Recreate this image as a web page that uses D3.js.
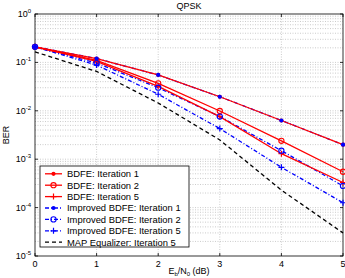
<!DOCTYPE html>
<html>
<head>
<meta charset="utf-8">
<script src="https://cdn.jsdelivr.net/npm/d3@7"></script>
<style>
  body { margin: 0; background: #fff; }
  text { font-family: "Liberation Sans", Arial, sans-serif; fill: #000; }
</style>
</head>
<body>
<svg id="chart" width="345" height="278"></svg>
<script>
const snr = [0, 1, 2, 3, 4, 5]

const bdfeIt1 = [0.21, 0.12, 0.055, 0.0195, 0.0063, 0.002]
const bdfeIt2 = [0.21, 0.11, 0.037, 0.0099, 0.0024, 0.00055]
const bdfeIt5 = [0.21, 0.105, 0.032, 0.0076, 0.0013, 0.00033]
const impIt1 = [0.21, 0.12, 0.055, 0.0195, 0.0063, 0.002]
const impIt2 = [0.21, 0.097, 0.03, 0.0076, 0.0015, 0.00028]
const impIt5 = [0.21, 0.088, 0.022, 0.0043, 0.00068, 0.000126]
const mapIt5 = [0.165, 0.065, 0.0145, 0.0025, 0.00023, 0.00003]

const xTicks = [0, 1, 2, 3, 4, 5]
const yExps = [0, -1, -2, -3, -4, -5]

const series = [
    {name: 'MAP Equalizer: Iteration 5', values: mapIt5, color: '#000000', dash: '4,3', marker: null},
    {name: 'Improved BDFE: Iteration 1', values: impIt1, color: '#0000ff', dash: '4,2,1,2', marker: 'dot'},
    {name: 'Improved BDFE: Iteration 2', values: impIt2, color: '#0000ff', dash: '4,2,1,2', marker: 'circle'},
    {name: 'Improved BDFE: Iteration 5', values: impIt5, color: '#0000ff', dash: '4,2,1,2', marker: 'plus'},
    {name: 'BDFE: Iteration 1', values: bdfeIt1, color: '#ff0000', dash: null, marker: 'dot'},
    {name: 'BDFE: Iteration 2', values: bdfeIt2, color: '#ff0000', dash: null, marker: 'circle'},
    {name: 'BDFE: Iteration 5', values: bdfeIt5, color: '#ff0000', dash: null, marker: 'plus'},
]
const legendOrder = [4, 5, 6, 1, 2, 3, 0]

const svg = d3.select('#chart')
const pLeft = 35, pRight = 343, pTop = 14, pBottom = 256

const x = d3.scaleLinear().domain([0, 5]).range([pLeft, pRight])
const y = d3.scaleLog().domain([1e-5, 1]).range([pBottom, pTop])

// grid
const grid = svg.append('g')
    .attr('stroke', '#aaa')
    .attr('stroke-width', 0.6)
    .attr('stroke-dasharray', '1,1.5')
xTicks.slice(1, -1).forEach(t => {
    grid.append('line')
        .attr('x1', x(t)).attr('x2', x(t))
        .attr('y1', pTop).attr('y2', pBottom)
})
for (let e = -5; e < 0; e++) {
    for (let m = 1; m <= 9; m++) {
        const v = m * Math.pow(10, e)
        if (m === 1 && e === -5) continue
        grid.append('line')
            .attr('x1', pLeft).attr('x2', pRight)
            .attr('y1', y(v)).attr('y2', y(v))
    }
}

// axes frame
svg.append('rect')
    .attr('x', pLeft).attr('y', pTop)
    .attr('width', pRight - pLeft).attr('height', pBottom - pTop)
    .attr('fill', 'none').attr('stroke', '#000').attr('stroke-width', 0.8)

xTicks.forEach(t => {
    svg.append('line').attr('x1', x(t)).attr('x2', x(t)).attr('y1', pBottom).attr('y2', pBottom - 3)
        .attr('stroke', '#000').attr('stroke-width', 0.8)
    svg.append('line').attr('x1', x(t)).attr('x2', x(t)).attr('y1', pTop).attr('y2', pTop + 3)
        .attr('stroke', '#000').attr('stroke-width', 0.8)
    svg.append('text')
        .attr('x', x(t)).attr('y', pBottom + 11)
        .attr('text-anchor', 'middle')
        .attr('font-size', 9)
        .text(t)
})

yExps.forEach(e => {
    const v = Math.pow(10, e)
    svg.append('line').attr('x1', pLeft).attr('x2', pLeft + 3).attr('y1', y(v)).attr('y2', y(v))
        .attr('stroke', '#000').attr('stroke-width', 0.8)
    svg.append('line').attr('x1', pRight).attr('x2', pRight - 3).attr('y1', y(v)).attr('y2', y(v))
        .attr('stroke', '#000').attr('stroke-width', 0.8)
    const lbl = svg.append('text')
        .attr('x', pLeft - 4).attr('y', y(v) + 3)
        .attr('text-anchor', 'end')
        .attr('font-size', 9)
    lbl.append('tspan').text('10')
    lbl.append('tspan').attr('dy', -4).attr('font-size', 6).text(e)
})

svg.append('text')
    .attr('x', (pLeft + pRight) / 2).attr('y', 9)
    .attr('text-anchor', 'middle')
    .attr('font-size', 9)
    .text('QPSK')

const xl = svg.append('text')
    .attr('x', (pLeft + pRight) / 2).attr('y', 274)
    .attr('text-anchor', 'middle')
    .attr('font-size', 9)
xl.append('tspan').text('E')
xl.append('tspan').attr('font-size', 6).attr('dy', 2).text('b')
xl.append('tspan').attr('dy', -2).text('/N')
xl.append('tspan').attr('font-size', 6).attr('dy', 2).text('0')
xl.append('tspan').attr('dy', -2).text(' (dB)')

svg.append('text')
    .attr('transform', `translate(9,${(pTop + pBottom) / 2}) rotate(-90)`)
    .attr('text-anchor', 'middle')
    .attr('font-size', 9)
    .text('BER')

// lines
const line = d3.line()
    .x((d, i) => x(snr[i]))
    .y(d => y(d))

function drawMarker(g, type, cx, cy, color) {
    if (type === 'dot') {
        g.append('circle').attr('cx', cx).attr('cy', cy).attr('r', 2.1).attr('fill', color)
    } else if (type === 'circle') {
        g.append('circle').attr('cx', cx).attr('cy', cy).attr('r', 2.6)
            .attr('fill', 'none').attr('stroke', color).attr('stroke-width', 1.1)
    } else if (type === 'plus') {
        g.append('path')
            .attr('d', `M${cx - 3},${cy}H${cx + 3}M${cx},${cy - 3}V${cy + 3}`)
            .attr('stroke', color).attr('stroke-width', 1.2)
    }
}

// lines first (blue under red), then markers with blue on top
const plot = svg.append('g')
series.forEach(s => {
    plot.append('path')
        .datum(s.values)
        .attr('d', line)
        .attr('fill', 'none')
        .attr('stroke', s.color)
        .attr('stroke-width', 1.3)
        .attr('stroke-dasharray', s.dash)
})
const markerOrder = [4, 5, 6, 1, 2, 3]
markerOrder.forEach(k => {
    const s = series[k]
    const mg = plot.append('g')
    s.values.forEach((v, i) => drawMarker(mg, s.marker, x(snr[i]), y(v), s.color))
})

// legend
const lg = svg.append('g')
const lx = 40, ly = 166, lw = 149, lh = 81
lg.append('rect')
    .attr('x', lx).attr('y', ly).attr('width', lw).attr('height', lh)
    .attr('fill', '#fff').attr('stroke', '#000').attr('stroke-width', 0.8)
legendOrder.forEach((k, i) => {
    const s = series[k]
    const yy = ly + 7.8 + i * 11.4
    lg.append('line')
        .attr('x1', lx + 5).attr('x2', lx + 22)
        .attr('y1', yy).attr('y2', yy)
        .attr('stroke', s.color).attr('stroke-width', 1.3)
        .attr('stroke-dasharray', s.dash)
    if (s.marker) drawMarker(lg, s.marker, lx + 13.5, yy, s.color)
    lg.append('text')
        .attr('x', lx + 27).attr('y', yy + 3.3)
        .attr('font-size', 9.4)
        .text(s.name)
})
</script>
</body>
</html>
